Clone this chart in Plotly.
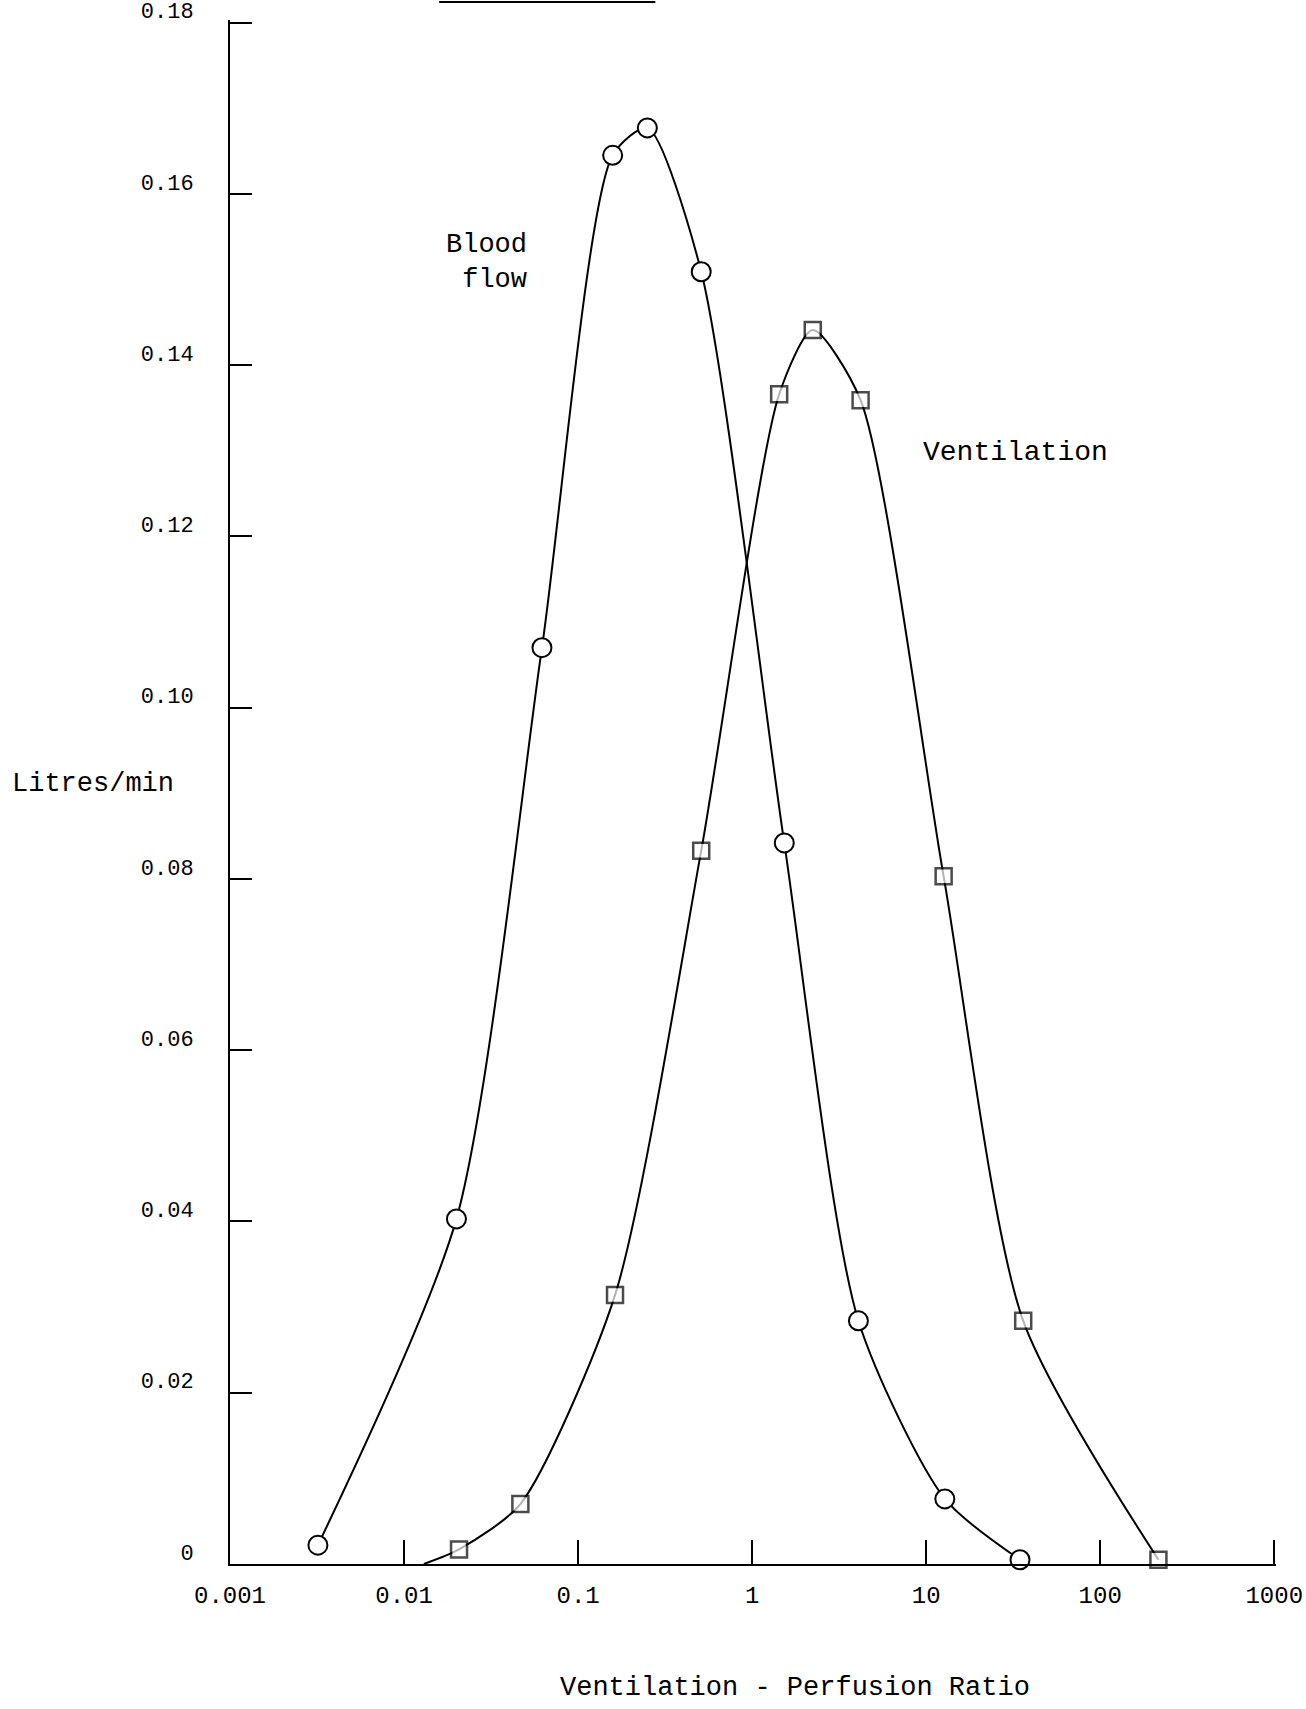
import plotly.graph_objects as go

# Data
blood_x = [0.0032, 0.020, 0.062, 0.158, 0.25, 0.51, 1.53, 4.08, 12.8, 34.6]
blood_y = [0.0022, 0.0403, 0.107, 0.1645, 0.1677, 0.1509, 0.0842, 0.0284, 0.0076, 0.0005]

vent_x = [0.013, 0.0207, 0.0466, 0.163, 0.51, 1.43, 2.23, 4.2, 12.6, 36.1, 216]
vent_y = [0.0, 0.0017, 0.007, 0.0314, 0.0833, 0.1366, 0.1441, 0.1359, 0.0803, 0.0284, 0.0005]
vent_marked = [False, True, True, True, True, True, True, True, True, True, True]

x_tickvals = [0.001, 0.01, 0.1, 1, 10, 100, 1000]
x_ticktext = ["0.001", "0.01", "0.1", "1", "10", "100", "1000"]
y_tickvals = [0, 0.02, 0.04, 0.06, 0.08, 0.10, 0.12, 0.14, 0.16, 0.18]
y_ticktext = ["0", "0.02", "0.04", "0.06", "0.08", "0.10", "0.12", "0.14", "0.16", "0.18"]

FONT = "Liberation Mono, Courier New, monospace"

fig = go.Figure()
fig.add_trace(go.Scatter(
    x=blood_x, y=blood_y, mode="lines+markers", name="Blood flow",
    line=dict(color="black", width=2, shape="spline", smoothing=0.7),
    marker=dict(symbol="circle", size=19, color="white", line=dict(color="black", width=2)),
    cliponaxis=False, showlegend=False))
fig.add_trace(go.Scatter(
    x=vent_x, y=vent_y, mode="lines+markers", name="Ventilation",
    line=dict(color="black", width=2, shape="spline", smoothing=0.7),
    marker=dict(symbol="square", size=[16 if m else 0 for m in vent_marked], color="white",
                line=dict(color="black", width=2.5)),
    cliponaxis=False, showlegend=False))

fig.update_layout(
    width=1306, height=1709,
    margin=dict(l=230, r=30, t=20, b=145),
    paper_bgcolor="white", plot_bgcolor="white",
    font=dict(family=FONT, color="black"),
    xaxis=dict(type="log", range=[-3, 3.01], tickvals=x_tickvals, ticktext=x_ticktext,
               ticks="inside", ticklen=24, tickwidth=2, tickcolor="black",
               showline=True, linecolor="black", linewidth=2, showgrid=False, zeroline=False,
               tickfont=dict(size=24, family=FONT), ticklabelstandoff=8,
               ticklabeloverflow="allow", automargin=False),
    yaxis=dict(range=[0, 0.1803], tickvals=y_tickvals, ticktext=y_ticktext,
               ticks="inside", ticklen=22, tickwidth=2, tickcolor="black",
               showline=True, linecolor="black", linewidth=2, showgrid=False, zeroline=False,
               tickfont=dict(size=22, family=FONT), ticklabelstandoff=30, ticklabelshift=-12,
               ticklabeloverflow="allow", automargin=False),
    annotations=[
        dict(text="Litres/min", xref="paper", yref="paper", x=-0.21, y=0.505,
             xanchor="left", yanchor="middle", showarrow=False, font=dict(size=27, family=FONT)),
        dict(text="Ventilation - Perfusion Ratio", xref="paper", yref="paper", x=0.540, y=-0.0804,
             xanchor="center", yanchor="middle", showarrow=False, font=dict(size=27, family=FONT)),
        dict(text="Blood<br> flow", xref="paper", yref="paper", x=0.286, y=0.843,
             xanchor="right", yanchor="middle", align="right", showarrow=False,
             font=dict(size=27, family=FONT)),
        dict(text="Ventilation", xref="paper", yref="paper", x=0.661, y=0.720,
             xanchor="left", yanchor="middle", showarrow=False, font=dict(size=28, family=FONT)),
    ],
    shapes=[dict(type="line", xref="paper", yref="paper", x0=0.2, x1=0.4066, y0=1.0117, y1=1.0117,
                 line=dict(color="black", width=2))],
)

fig.write_html("out.html", config={"displayModeBar": False},
               post_script="document.body.style.margin='0px';")
